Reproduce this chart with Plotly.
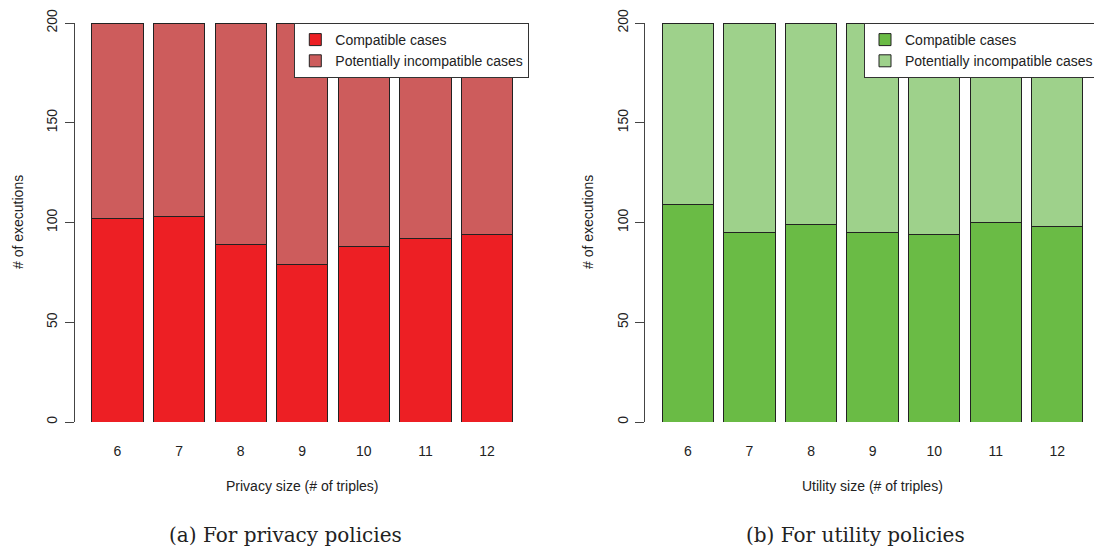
import plotly.graph_objects as go

# ---- data ----
sizes = ["6", "7", "8", "9", "10", "11", "12"]
privacy_compatible = [102, 103, 89, 79, 88, 92, 94]
privacy_incompatible = [98, 97, 111, 121, 112, 108, 106]
utility_compatible = [109, 95, 99, 95, 94, 100, 98]
utility_incompatible = [91, 105, 101, 105, 106, 100, 102]
y_ticks = [0, 50, 100, 150, 200]
series_names = ["Compatible cases", "Potentially incompatible cases"]

W, H = 1094, 547
SANS = "Liberation Sans, Arial, sans-serif"
SERIF = "DejaVu Serif, serif"
TXT = "#222222"
EDGE = "#222222"

red_dark, red_light = "#ED1F24", "#CD5C5C"
green_dark, green_light = "#6ABB45", "#9ED18B"

fig = go.Figure()

def add_bars(xaxis, yaxis, legend, comp, incomp, c1, c2):
    fig.add_trace(go.Bar(x=sizes, y=comp, name=series_names[0], marker=dict(color=c1, line=dict(color=EDGE, width=1)),
                         xaxis=xaxis, yaxis=yaxis, legend=legend))
    fig.add_trace(go.Bar(x=sizes, y=incomp, name=series_names[1], marker=dict(color=c2, line=dict(color=EDGE, width=1)),
                         xaxis=xaxis, yaxis=yaxis, legend=legend))

add_bars("x", "y", "legend", privacy_compatible, privacy_incompatible, red_dark, red_light)
add_bars("x2", "y2", "legend2", utility_compatible, utility_incompatible, green_dark, green_light)

ydom = [1 - 422 / H, 1 - 23 / H]
xdom1 = [75 / W, 529.5 / W]
xdom2 = [645.4 / W, 1.0]

xcommon = dict(type="category", showline=False, showgrid=False, zeroline=False, ticks="outside", ticklen=0,
               tickcolor="rgba(0,0,0,0)", tickfont=dict(family=SANS, size=14, color=TXT), ticklabelstandoff=16,
               fixedrange=True, automargin=False)
ycommon = dict(range=[0, 200], tickvals=y_ticks, showline=True, linecolor="#444444", linewidth=1, showgrid=False,
               zeroline=False, ticks="outside", ticklen=9, tickcolor="#444444", tickwidth=1, tickangle=-90,
               tickfont=dict(family=SANS, size=14, color=TXT), ticklabelstandoff=2, fixedrange=True,
               automargin=False)

legend_common = dict(bgcolor="white", bordercolor="#333333", borderwidth=1, font=dict(family=SANS, size=14, color=TXT),
                     traceorder="normal", xanchor="left", yanchor="top", y=1 - 23 / H, tracegroupgap=0)

fig.update_layout(
    width=W, height=H, autosize=False,
    margin=dict(l=0, r=0, t=0, b=0, autoexpand=False),
    paper_bgcolor="white", plot_bgcolor="white",
    barmode="stack", bargap=1 - 1 / 1.2,
    xaxis=dict(domain=xdom1, anchor="y", range=[-0.69, 6.69], **xcommon),
    yaxis=dict(domain=ydom, anchor="x", **ycommon),
    xaxis2=dict(domain=xdom2, anchor="y2", range=[-0.69, 6.596], **xcommon),
    yaxis2=dict(domain=ydom, anchor="x2", **ycommon),
    legend=dict(x=294.3 / W, **legend_common),
    legend2=dict(x=864 / W, **legend_common),
    showlegend=True,
)

def ann(text, xp, yp, size, family, angle=0):
    fig.add_annotation(text=text, x=xp / W, y=1 - yp / H, xref="paper", yref="paper", showarrow=False,
                       xanchor="center", yanchor="middle", textangle=angle,
                       font=dict(family=family, size=size, color=TXT))

ann("# of executions", 17.5, 222.5, 14, SANS, -90)
ann("# of executions", 587.5, 222.5, 14, SANS, -90)
ann("Privacy size (# of triples)", 302.3, 485.7, 14, SANS)
ann("Utility size (# of triples)", 872.3, 485.7, 14, SANS)
ann("(a) For privacy policies", 285.5, 535, 20, SERIF)
ann("(b) For utility policies", 855.3, 535, 20, SERIF)

fig.write_html("out.html", config={"displayModeBar": False},
               post_script="document.body.style.margin='0';document.body.style.overflow='hidden';")
